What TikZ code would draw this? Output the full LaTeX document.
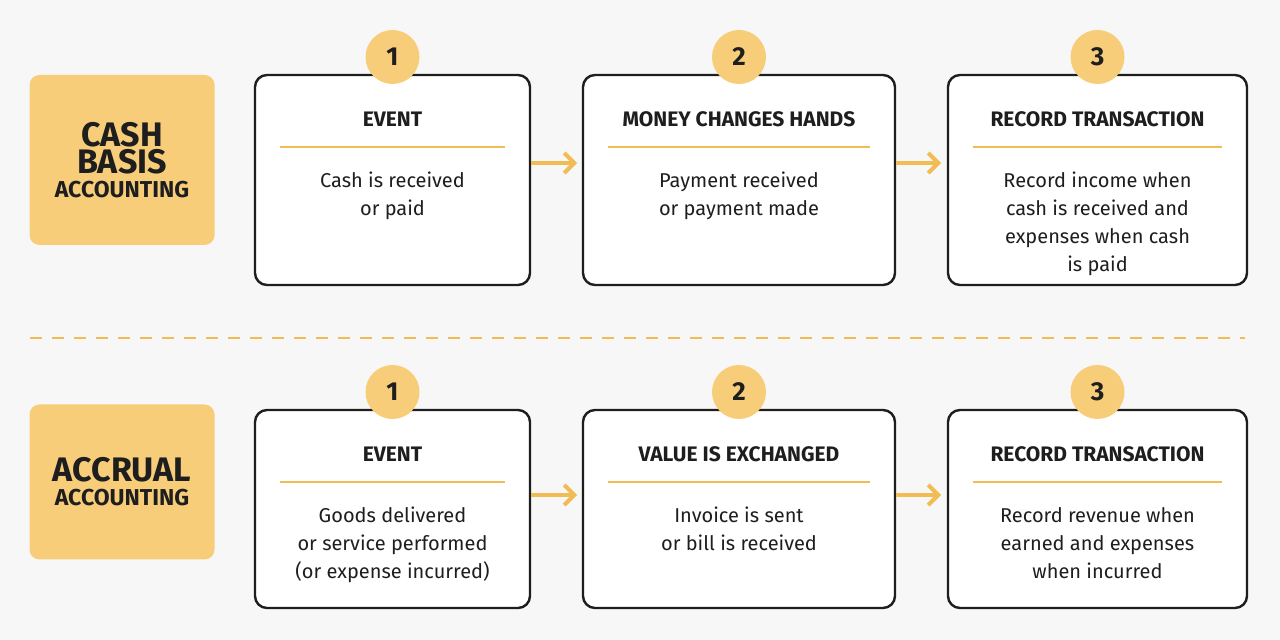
\documentclass[tikz,border=0pt]{standalone}
\usepackage{fontspec}
\setmainfont{Fira Sans}
\usetikzlibrary{positioning,arrows.meta}
\definecolor{sand}{HTML}{F7CD7A}
\definecolor{gold}{HTML}{F2BC55}
\definecolor{ink}{HTML}{1E1E1E}
\newcommand{\sidebig}[1]{\fontsize{17}{21}\selectfont #1}
\newcommand{\sidesmall}[1]{\fontsize{11.5}{14}\selectfont #1}
\tikzset{
  card/.style={draw=ink,line width=1.2pt,rounded corners=6pt,fill=white},
  side/.style={fill=sand,rounded corners=5pt,minimum width=92.5pt,text=ink,font=\bfseries,align=center},
  num/.style={circle,fill=sand,minimum size=27pt,inner sep=0pt,font=\bfseries\fontsize{13}{13}\selectfont,text=ink},
  head/.style={font=\bfseries\fontsize{10.5}{12}\selectfont,text=ink,anchor=base},
  body/.style={font=\fontsize{10}{14}\selectfont,text=ink,align=center,anchor=north},
  rule/.style={draw=gold,line width=0.9pt},
  go/.style={-{Straight Barb[length=5pt,width=10pt]},draw=gold,line width=2pt}
}
\begin{document}
\begin{tikzpicture}[x=0.5pt,y=-0.5pt]
\fill[white!97!black] (0,0) rectangle (1280,640);
\useasboundingbox (0,0) rectangle (1280,640);
%
% side labels
\node[side,minimum height=85pt] (cash) at (122,160) {\sidebig{CASH}\\\sidebig{BASIS}\\\sidesmall{ACCOUNTING}};
\node[side,minimum height=77.5pt] (accr) at (122,482) {\sidebig{ACCRUAL}\\\sidesmall{ACCOUNTING}};
%
% boxes: row, x0, x1, y0, y1
\foreach \r/\ya/\yb in {t/75/285,b/410/608}{
  \foreach \i/\xa/\xb in {1/255/530,2/583/895,3/948/1247}{
    \draw[card] (\xa,\ya) rectangle (\xb,\yb);
    \node[num] (n\r\i) at ({(\xa+\xb)/2},{\ya-18}) {\i};
    \coordinate (h\r\i) at ({(\xa+\xb)/2},{\ya+52});
    \draw[rule] ({\xa+25},{\ya+72}) -- ({\xb-25},{\ya+72});
    \coordinate (c\r\i) at ({(\xa+\xb)/2},{\ya+90});
  }
}
%
\node[head] at (ht1) {EVENT};
\node[head] at (ht2) {MONEY CHANGES HANDS};
\node[head] at (ht3) {RECORD TRANSACTION};
\node[head] at (hb1) {EVENT};
\node[head] at (hb2) {VALUE IS EXCHANGED};
\node[head] at (hb3) {RECORD TRANSACTION};
%
\node[body] at (ct1) {Cash is received\\or paid};
\node[body] at (ct2) {Payment received\\or payment made};
\node[body] at (ct3) {Record income when\\cash is received and\\expenses when cash\\is paid};
\node[body] at (cb1) {Goods delivered\\or service performed\\(or expense incurred)};
\node[body] at (cb2) {Invoice is sent\\or bill is received};
\node[body] at (cb3) {Record revenue when\\earned and expenses\\when incurred};
%
% arrows
\coordinate (a1) at (531,163); \coordinate (a2) at (577,163);
\coordinate (a3) at (896,163); \coordinate (a4) at (941,163);
\coordinate (a5) at (531,495); \coordinate (a6) at (577,495);
\coordinate (a7) at (896,495); \coordinate (a8) at (941,495);
\draw[go] (a1) -- (a2);
\draw[go] (a3) -- (a4);
\draw[go] (a5) -- (a6);
\draw[go] (a7) -- (a8);
%
% divider
\coordinate (d1) at (30,338); \coordinate (d2) at (1245,338);
\draw[gold,line width=1.2pt,dash pattern=on 6pt off 5pt] (d1) -- (d2);
\end{tikzpicture}
\end{document}
